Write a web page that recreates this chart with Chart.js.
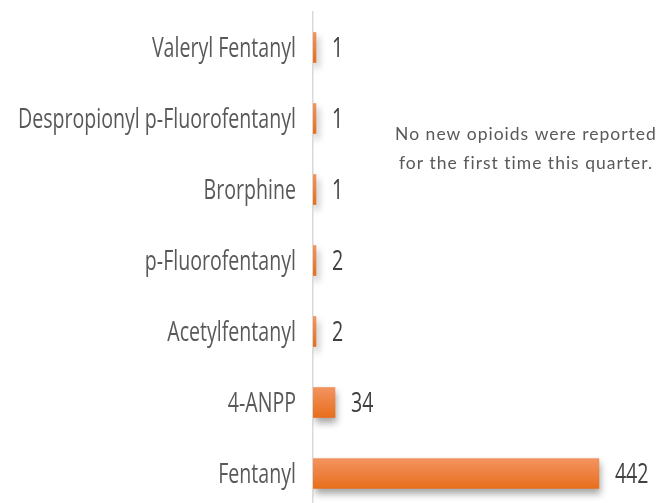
<!DOCTYPE html>
<html>
<head>
<meta charset="utf-8">
<script src="https://cdn.jsdelivr.net/npm/chart.js@4.4.0/dist/chart.umd.min.js"></script>
<style>
  html, body { margin: 0; padding: 0; overflow: hidden; background: #fff; }
  canvas { display: block; }
</style>
</head>
<body>
<canvas id="opioidChart" width="660" height="512"></canvas>
<script>
// Opioids reported, by substance
const categories = ['Valeryl Fentanyl', 'Despropionyl p-Fluorofentanyl', 'Brorphine',
  'p-Fluorofentanyl', 'Acetylfentanyl', '4-ANPP', 'Fentanyl'];
const counts = [1, 1, 1, 2, 2, 34, 442];
const noteLines = ['No new opioids were reported', 'for the first time this quarter.'];

const labelFont = '27px "Open Sans", Lato, sans-serif';
const labelRight = 296;     // right edge of category labels
const longestWidth = 278;   // width of the longest label in the original

// orange gradient per bar, top lighter
function barFill(c) {
  const chart = c.chart;
  const y = chart.scales.y;
  if (!chart.chartArea || !y) return '#ED7D31';
  const mid = y.getPixelForValue(c.dataIndex);
  const g = chart.ctx.createLinearGradient(0, mid - 15, 0, mid + 15);
  g.addColorStop(0, '#F29460');
  g.addColorStop(1, '#E86E1C');
  return g;
}

// soft drop shadow under the bars
const barShadow = {
  id: 'barShadow',
  beforeDatasetsDraw(chart) {
    const ctx = chart.ctx;
    ctx.save();
    ctx.shadowColor = 'rgba(0,0,0,0.35)';
    ctx.shadowBlur = 7;
    ctx.shadowOffsetX = 2;
    ctx.shadowOffsetY = 5;
  },
  afterDatasetsDraw(chart) {
    chart.ctx.restore();
  }
};

// condensed text: squeeze horizontally around x
function narrowText(ctx, text, x, y, sx, align) {
  ctx.save();
  ctx.translate(x, y);
  ctx.scale(sx, 1);
  ctx.textAlign = align;
  ctx.fillText(text, 0, 0);
  ctx.restore();
}

// category labels, numbers at bar ends, side note
const textLayer = {
  id: 'textLayer',
  afterDraw(chart) {
    const ctx = chart.ctx;
    const yScale = chart.scales.y;
    const meta = chart.getDatasetMeta(0);
    ctx.save();
    ctx.font = labelFont;
    ctx.textBaseline = 'middle';
    const sx = longestWidth / Math.max(...categories.map(t => ctx.measureText(t).width));

    ctx.fillStyle = '#595959';
    yScale.ticks.forEach((tick, i) => {
      const y = yScale.getPixelForTick(i);
      narrowText(ctx, yScale.getLabelForValue(tick.value), labelRight, y + 2, sx, 'right');
    });

    ctx.fillStyle = '#404040';
    meta.data.forEach((bar, i) => {
      narrowText(ctx, String(counts[i]), bar.x + 16, bar.y + 2, sx, 'left');
    });

    ctx.font = '17.5px Lato, "Open Sans", sans-serif';
    ctx.letterSpacing = '1px';
    ctx.fillStyle = '#595959';
    ctx.textAlign = 'center';
    noteLines.forEach((t, i) => ctx.fillText(t, 526, 134 + i * 29));
    ctx.restore();
  }
};

const config = {
  type: 'bar',
  data: {
    labels: categories,
    datasets: [{
      data: counts,
      backgroundColor: barFill,
      borderWidth: 0,
      barThickness: 30,
      minBarLength: 3
    }]
  },
  options: {
    indexAxis: 'y',
    responsive: false,
    animation: false,
    layout: { padding: { top: 12, bottom: 3, left: 0, right: 10 } },
    scales: {
      x: {
        display: false,
        min: 0,
        max: 521
      },
      y: {
        afterFit(scale) {
          scale.width = 313;
          scale.paddingTop = 0;
          scale.paddingBottom = 0;
        },
        grid: { display: false, drawTicks: false },
        border: { display: true, color: '#D9D9D9', width: 1.5 },
        ticks: { display: false }
      }
    },
    plugins: {
      legend: { display: false },
      tooltip: { enabled: false }
    }
  },
  plugins: [barShadow, textLayer]
};

new Chart(document.getElementById('opioidChart').getContext('2d'), config);
</script>
</body>
</html>
